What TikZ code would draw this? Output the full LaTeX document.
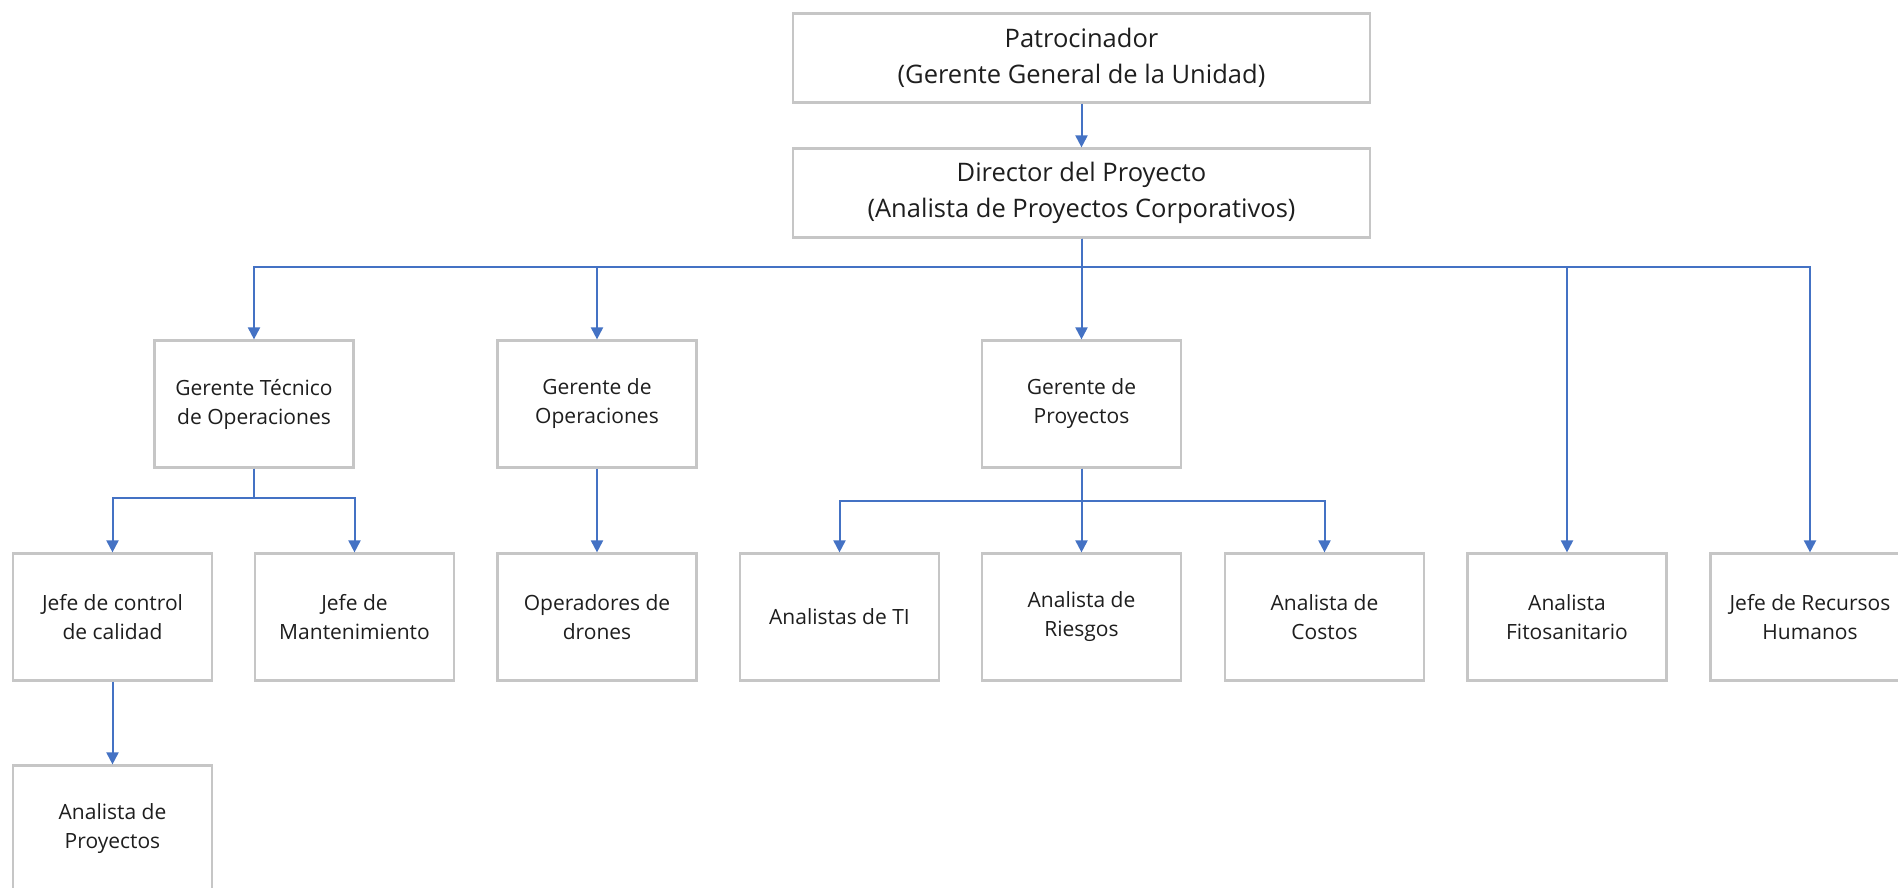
\documentclass[tikz,border=0pt]{standalone}
\usepackage{fontspec}
\setmainfont{Open Sans}
\usetikzlibrary{arrows.meta,calc}
\definecolor{arrowblue}{HTML}{4472C4}
\definecolor{boxgray}{HTML}{C6C6C6}
\definecolor{txt}{HTML}{1E1E1E}
\begin{document}
\begin{tikzpicture}[x=1pt,y=-1pt,
  box/.style={draw=boxgray, line width=2.2pt, fill=white, minimum width=199pt, minimum height=127pt,
    align=center, inner sep=0pt, text=txt, font=\fontsize{21}{29}\selectfont},
  topbox/.style={draw=boxgray, line width=2.2pt, fill=white, minimum width=577pt, minimum height=89pt,
    align=center, inner sep=0pt, text=txt, font=\fontsize{25.5}{36}\selectfont},
  conn/.style={draw=arrowblue, line width=2pt, -{Triangle[length=12pt,width=12pt]}},
]
\useasboundingbox (0,0) rectangle (1898,888);
\fill[white] (0,0) rectangle (1898,888);

\node[topbox] (pat) at (1081.5,58) {Patrocinador\\(Gerente General de la Unidad)};
\node[topbox] (dir) at (1081.5,193) {Director del Proyecto\\(Analista de Proyectos Corporativos)};

\node[box] (gt) at (254,404) {Gerente Técnico\\de Operaciones};
\node[box] (go) at (597,404) {Gerente de\\Operaciones};
\node[box] (gp) at (1081.5,404) {Gerente de\\Proyectos};

\node[box] (jc) at (112.5,617) {Jefe de control\\de calidad};
\node[box] (jm) at (354.5,617) {Jefe de\\Mantenimiento};
\node[box] (od) at (597,617) {Operadores de\\drones};
\node[box] (ati) at (839.5,617) {Analistas de TI};
\node[box] (ar) at (1081.5,617) {Analista de\\Riesgos};
\node[box] (ac) at (1324.5,617) {Analista de\\Costos};
\node[box] (af) at (1567,617) {Analista\\Fitosanitario};
\node[box] (rh) at (1810,617) {Jefe de Recursos\\Humanos};

\node[box] (ap) at (112.5,829) {Analista de\\Proyectos};

\coordinate (bus) at ($(dir.south)+(0,28)$);
\coordinate (gtbus) at ($(gt.south)+(0,29)$);
\coordinate (gpbus) at ($(gp.south)+(0,32)$);

\draw[conn] (pat) -- (dir);
\draw[conn] (dir.south) -- (gp.north);
\draw[conn] (dir.south) -- (bus) -| (gt.north);
\draw[conn] (dir.south) -- (bus) -| (go.north);
\draw[conn] (dir.south) -- (bus) -| (af.north);
\draw[conn] (dir.south) -- (bus) -| (rh.north);

\draw[conn] (gt.south) -- (gtbus) -| (jc.north);
\draw[conn] (gt.south) -- (gtbus) -| (jm.north);
\draw[conn] (go.south) -- (od.north);

\draw[conn] (gp.south) -- (gpbus) -| (ati.north);
\draw[conn] (gp.south) -- (ar.north);
\draw[conn] (gp.south) -- (gpbus) -| (ac.north);

\draw[conn] (jc.south) -- (ap.north);
\end{tikzpicture}
\end{document}
